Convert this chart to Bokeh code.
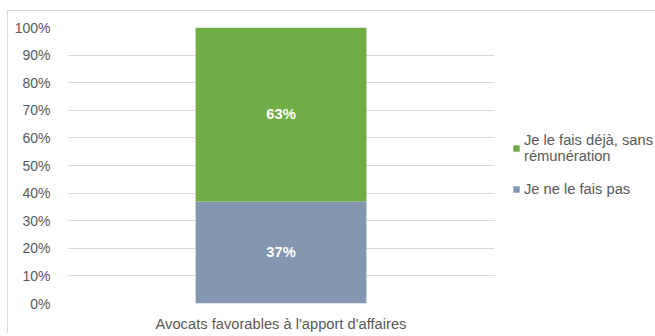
from bokeh.plotting import figure
from bokeh.models import (ColumnDataSource, Legend, LegendItem, SingleIntervalTicker, FixedTicker,
                          NumeralTickFormatter, LabelSet, Range1d, BoxAnnotation)
from bokeh.core.properties import value
from bokeh.embed import file_html
from bokeh.resources import INLINE

categories = ["Avocats favorables à l'apport d'affaires"]
series_names = ["Je ne le fais pas", "Je le fais déjà, sans\nrémunération"]
ne_le_fais_pas = [0.37]
deja_sans_remuneration = [0.63]
colors = ["#8497B0", "#70AD47"]

FONT = "Liberation Sans"
FRAME_W = 589
CAT_PX = 427  # pixel width of the category band

xs = list(range(len(categories)))
x_end = -0.5 + FRAME_W / CAT_PX

p = figure(x_range=Range1d(-0.5, x_end), y_range=(0, 1), width=648, height=323,
           output_backend="svg", toolbar_location=None,
           min_border_left=59, min_border_right=0, min_border_top=16, min_border_bottom=20)
p.margin = (10, 0, 0, 7)
p.styles = {"border-top": "1px solid #d9d9d9", "border-left": "1px solid #d9d9d9"}
p.outline_line_color = None

src = ColumnDataSource(dict(x=xs, a=ne_le_fais_pas, b=deja_sans_remuneration))
r = p.vbar_stack(["a", "b"], x="x", width=0.4, source=src, color=colors, line_color=None)

# hide grid lines beyond the category band (legend area)
p.add_layout(BoxAnnotation(left=len(categories) - 0.5, fill_color="white", fill_alpha=1,
                           line_color=None))

lab_src = ColumnDataSource(dict(
    x=xs * 2,
    y=[ne_le_fais_pas[0] / 2, ne_le_fais_pas[0] + deja_sans_remuneration[0] / 2],
    txt=[f"{round(ne_le_fais_pas[0]*100)}%", f"{round(deja_sans_remuneration[0]*100)}%"]))
p.add_layout(LabelSet(x="x", y="y", text="txt", source=lab_src, text_align="center",
                      text_baseline="middle", text_color="white", text_font_style="bold",
                      text_font=value(FONT), text_font_size="14.7px"))

p.yaxis.ticker = SingleIntervalTicker(interval=0.1)
p.yaxis.formatter = NumeralTickFormatter(format="0%")
p.xaxis.ticker = FixedTicker(ticks=xs)
p.xaxis.major_label_overrides = {i: c for i, c in zip(xs, categories)}
for ax in (p.xaxis[0], p.yaxis[0]):
    ax.axis_line_color = None
    ax.major_tick_line_color = None
    ax.minor_tick_line_color = None
    ax.major_label_text_font = FONT
    ax.major_label_text_color = "#595959"
p.yaxis.major_label_text_font_size = "14px"
p.xaxis.major_label_text_font_size = "14.7px"
p.yaxis.major_label_standoff = 11
p.xaxis.major_label_standoff = 6
p.xgrid.grid_line_color = None
p.ygrid.grid_line_color = "#d9d9d9"
p.ygrid.grid_line_width = 1

legend = Legend(items=[LegendItem(label=series_names[1], renderers=[r[1]]),
                       LegendItem(label=series_names[0], renderers=[r[0]])],
                location=(445, 106), orientation="vertical",
                glyph_width=8, glyph_height=8, label_standoff=4, spacing=17,
                padding=0, margin=0, border_line_color=None, background_fill_alpha=0,
                label_text_font=FONT, label_text_font_size="14.7px", label_text_color="#595959",
                label_text_line_height=1.35)
p.add_layout(legend, "center")

open("out.html", "w").write(file_html(p, INLINE))
